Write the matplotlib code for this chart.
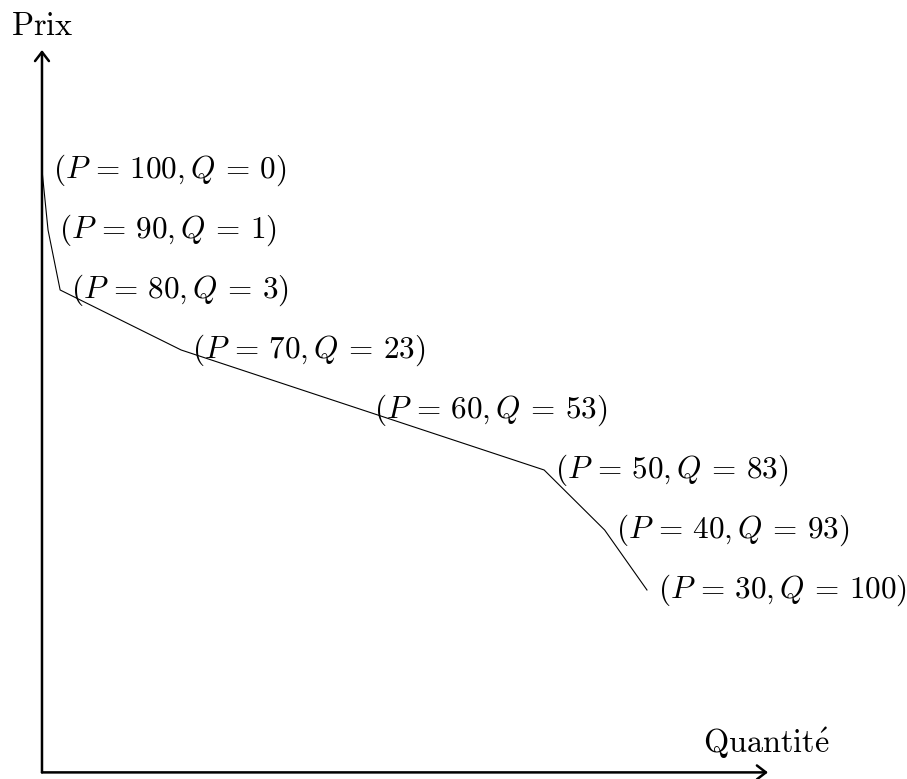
import matplotlib
matplotlib.use("Agg")
import matplotlib.pyplot as plt

plt.rcParams['mathtext.fontset'] = 'cm'

# demand schedule
prix = [100, 90, 80, 70, 60, 50, 40, 30]
quantite = [0, 1, 3, 23, 53, 83, 93, 100]

fs = 22.5

fig = plt.figure(figsize=(9.07, 7.79), dpi=100)
ax = fig.add_axes([0, 0, 1, 1])
ax.set_xlim(-6.94, 142.98)
ax.set_ylim(-1.5, 128.33)
ax.axis('off')

# axes with open arrow heads
arrow = dict(arrowstyle='->,head_length=0.65,head_width=0.5', lw=1.8,
             color='black', shrinkA=0, shrinkB=0)
ax.annotate('', xy=(0, 120), xytext=(0, -0.4), arrowprops=arrow)
ax.annotate('', xy=(120, -0.4), xytext=(0, -0.4), arrowprops=arrow)

ax.text(0, 122.5, r'$\mathrm{Prix}$', fontsize=23.3, ha='center', va='baseline')
ax.text(119.8, 2.8, r'$\mathrm{Quantit\acute{e}}$', fontsize=23.3,
        ha='center', va='baseline')

ax.plot(quantite, prix, color='black', lw=0.8)

for q, p in zip(quantite, prix):
    ax.annotate(r'$(P\,=\,%d, Q\,=\,%d)$' % (p, q), xy=(q, p),
                xytext=(8, 0), textcoords='offset points',
                fontsize=fs, ha='left', va='center')

fig.savefig('out.png', dpi=100)
